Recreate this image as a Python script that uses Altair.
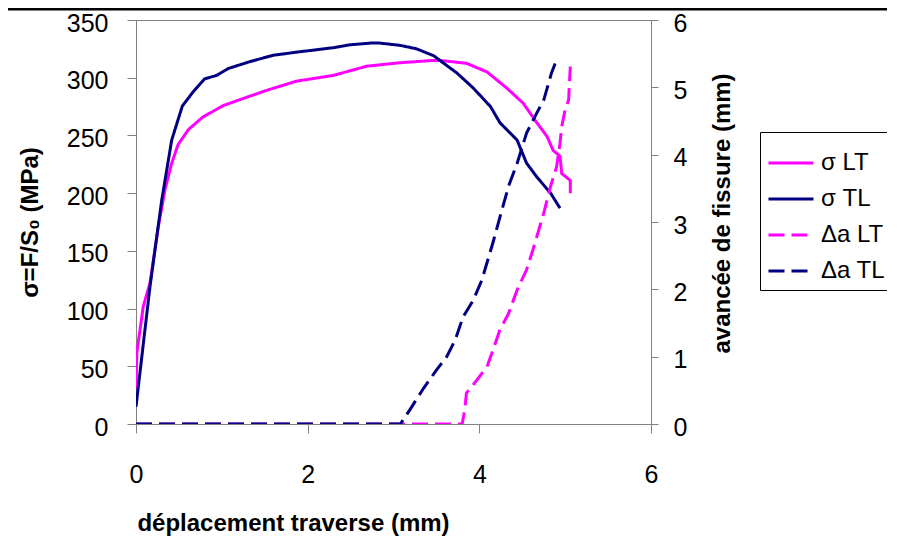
import altair as alt
import pandas as pd

# --- data ---
sigma_lt_x = [0, 0.01, 0.085, 0.163, 0.26, 0.338, 0.416, 0.49, 0.61, 0.78, 1.02, 1.25, 1.52, 1.87,
              2.30, 2.69, 3.08, 3.47, 3.54, 3.85, 4.09, 4.32, 4.51, 4.67, 4.79, 4.86, 4.94, 4.96, 5.06, 5.06]
sigma_lt_y = [30, 62, 102, 122, 171, 203, 226, 242, 255, 266, 276, 282, 289, 297,
              302, 310, 313, 315, 315, 312.5, 305, 291, 278, 261, 249, 237, 232, 217, 211, 200]

sigma_tl_x = [0, 0.163, 0.30, 0.416, 0.54, 0.668, 0.80, 0.94, 1.076, 1.33, 1.6, 1.91, 2.30, 2.49,
              2.73, 2.84, 3.08, 3.27, 3.47, 3.54, 3.74, 3.93, 4.13, 4.24, 4.44, 4.55, 4.67, 4.83, 4.94]
sigma_tl_y = [15, 119, 194, 246, 275.5, 288, 299, 302, 308, 314, 319.5, 322.5, 326, 328.5,
              330, 330, 328, 325, 319, 315, 304, 291, 275, 261, 246, 226, 214, 200, 187]

da_lt_x = [0, 3.80, 3.83, 3.85, 3.97, 4.09, 4.16, 4.24, 4.34, 4.44, 4.55, 4.63, 4.75, 4.83,
           4.90, 4.94, 4.96, 5.0, 5.04, 5.06]
da_lt_y = [0, 0, 0.21, 0.46, 0.65, 0.85, 1.10, 1.40, 1.64, 1.99, 2.29, 2.61, 3.13, 3.53,
           3.82, 4.17, 4.42, 4.67, 4.81, 5.31]

da_tl_x = [0, 3.08, 3.19, 3.35, 3.50, 3.62, 3.72, 3.81, 3.93, 4.03, 4.16, 4.22, 4.34, 4.44,
           4.55, 4.67, 4.75, 4.84, 4.90]
da_tl_y = [0, 0, 0.21, 0.53, 0.80, 1.0, 1.25, 1.59, 1.84, 2.14, 2.70, 2.98, 3.53, 3.87,
           4.32, 4.62, 4.81, 5.21, 5.41]

series_names = ["σ LT", "σ TL", "Δa LT", "Δa TL"]
series_colors = ["#FF00FF", "#000080", "#FF00FF", "#000080"]
series_dashes = [[1, 0], [1, 0], [16, 7], [16, 7]]

x_ticks = [0, 2, 4, 6]
left_ticks = [0, 50, 100, 150, 200, 250, 300, 350]
right_ticks = [0, 1, 2, 3, 4, 5, 6]


def frame(xs, ys, name):
    return pd.DataFrame({"x": xs, "v": ys, "series": name, "i": list(range(len(xs)))})


stress = pd.concat([frame(sigma_lt_x, sigma_lt_y, series_names[0]),
                    frame(sigma_tl_x, sigma_tl_y, series_names[1])])
crack = pd.concat([frame(da_lt_x, da_lt_y, series_names[2]),
                   frame(da_tl_x, da_tl_y, series_names[3])])

FONT = "Liberation Sans"


def legend():
    return alt.Legend(title=None, orient="none", legendX=624, legendY=112,
                      symbolType="stroke", symbolSize=2025, symbolStrokeWidth=3,
                      labelFontSize=24, labelFont=FONT, labelColor="black",
                      labelLimit=300, rowPadding=-7, padding=7,
                      strokeColor="black", fillColor="white", labelOffset=6)


color = alt.Color("series:N", scale=alt.Scale(domain=series_names, range=series_colors),
                  legend=legend())
dash = alt.StrokeDash("series:N", scale=alt.Scale(domain=series_names, range=series_dashes),
                      legend=legend())

x_enc = alt.X("x:Q", scale=alt.Scale(domain=[0, 6], nice=False),
              axis=alt.Axis(values=x_ticks, title="déplacement traverse (mm)",
                            titleX=157, titleY=99, titleBaseline="middle",
                            labelPadding=29, tickSize=9, labelFlush=False))

left = alt.Chart(stress).mark_line(strokeWidth=3, clip=True).encode(
    x=x_enc,
    y=alt.Y("v:Q", scale=alt.Scale(domain=[0, 350], nice=False),
            axis=alt.Axis(values=left_ticks, title="σ=F/S₀ (MPa)", orient="left",
                          titleX=-106, titleY=202, titleAngle=270, titleAlign="center",
                          titleBaseline="middle", labelPadding=19, tickSize=9,
                          labelOffset=3)),
    color=color, strokeDash=dash, order="i:Q")

right = alt.Chart(crack).mark_line(strokeWidth=3, clip=True).encode(
    x=x_enc,
    y=alt.Y("v:Q", scale=alt.Scale(domain=[0, 6], nice=False),
            axis=alt.Axis(values=right_ticks, title="avancée de fissure (mm)", orient="right",
                          titleX=71, titleY=193, titleAngle=270, titleAlign="center",
                          titleBaseline="middle", labelPadding=15, tickSize=7,
                          labelOffset=3)),
    color=color, strokeDash=dash, order="i:Q")

top_rule = alt.Chart(pd.DataFrame({"k": [0]})).mark_rule(color="black", strokeWidth=3).encode(
    x=alt.value(-130), x2=alt.value(760), y=alt.value(-11))

chart = alt.layer(left, right, top_rule).resolve_scale(y="independent").properties(
    width=515, height=404,
    background="white",
    autosize=alt.AutoSizeParams(type="none"),
    padding={"left": 128, "top": 12, "right": 236, "bottom": 118},
).configure_axis(
    grid=False, domainColor="#808080", tickColor="#808080", domainWidth=1,
    labelFont=FONT, labelFontSize=25, labelColor="black",
    titleFont=FONT, titleFontSize=24, titleFontWeight="bold", titleColor="black",
).configure_view(stroke="#808080", strokeWidth=1)

chart.save("out.html", embed_options={"renderer": "svg", "actions": False})
